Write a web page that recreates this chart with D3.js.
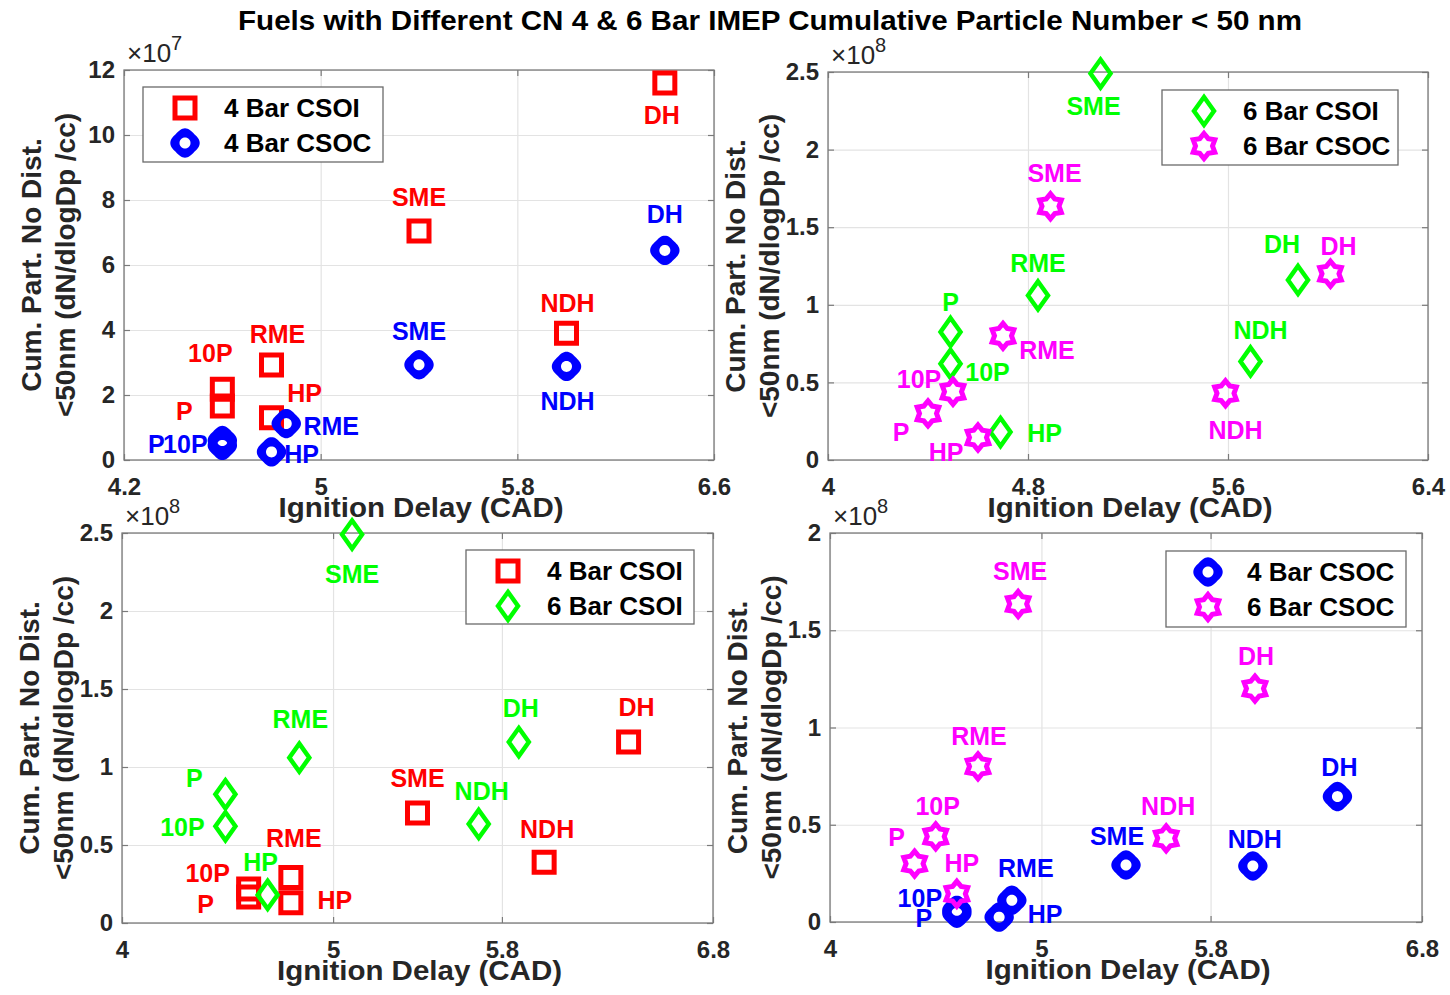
<!DOCTYPE html>
<html>
<head>
  <meta charset="utf-8">
  <title>Cumulative Particle Number &lt; 50 nm</title>
  <script src="https://d3js.org/d3.v7.min.js"></script>
  <style>
    body { margin: 0; background: #fff; }
    text { font-family: "Liberation Sans", Arial, sans-serif; }
  </style>
</head>
<body>
<div id="chart"></div>
<script>
  // fuels, same order in every series
  const fuels = ['DH', 'SME', 'NDH', 'RME', '10P', 'P', 'HP'];

  // ignition delay (CAD) and cumulative particle number < 50 nm (dN/dlogDp /cc)
  const ign4CSOI = [6.40, 5.40, 6.00, 4.80, 4.60, 4.60, 4.80];
  const cpn4CSOI = [1.16e8, 7.05e7, 3.9e7, 2.92e7, 2.18e7, 1.66e7, 1.3e7];
  const ign4CSOC = [6.40, 5.40, 6.00, 4.86, 4.60, 4.60, 4.80];
  const cpn4CSOC = [6.45e7, 2.93e7, 2.88e7, 1.12e7, 0.6e7, 0.45e7, 0.25e7];
  const ign6CSOI = [5.88, 5.09, 5.69, 4.84, 4.49, 4.49, 4.69];
  const cpn6CSOI = [1.16e8, 2.49e8, 6.35e7, 1.06e8, 6.2e7, 8.25e7, 1.8e7];
  const ign6CSOC = [6.01, 4.89, 5.59, 4.70, 4.50, 4.40, 4.60];
  const cpn6CSOC = [1.20e8, 1.635e8, 4.3e7, 8.0e7, 4.4e7, 3.0e7, 1.45e7];

  // ticks
  const xTicksA = [4.2, 5, 5.8, 6.6];
  const xTicksB = [4, 4.8, 5.6, 6.4];
  const xTicksC = [4, 5, 5.8, 6.8];
  const yTicksA = [0, 2e7, 4e7, 6e7, 8e7, 10e7, 12e7];
  const yTicksB = [0, 0.5e8, 1e8, 1.5e8, 2e8, 2.5e8];
  const yTicksC = [0, 0.5e8, 1e8, 1.5e8, 2e8];

  const W = 1450, H = 995;
  const svg = d3.select('#chart').append('svg')
      .attr('width', W).attr('height', H);

  // marker shapes
  function hexagram(R, r) {
    let pts = [];
    for (let i = 0; i < 12; i++) {
      let a = -Math.PI / 2 + i * Math.PI / 6;
      let rr = i % 2 ? r : R;
      pts.push([rr * Math.cos(a), rr * Math.sin(a)]);
    }
    return 'M' + pts.map(p => p[0].toFixed(2) + ',' + p[1].toFixed(2)).join('L') + 'Z';
  }
  function ring() {
    // thick circle marker, slightly lobed like the rasterised original
    let outer = d3.range(0, 73).map(i => {
      let a = i / 72 * 2 * Math.PI;
      let rr = 13.8 + 0.9 * Math.cos(4 * a);
      return [rr * Math.cos(a), rr * Math.sin(a)];
    });
    let inner = d3.range(0, 37).map(i => {
      let a = -i / 36 * 2 * Math.PI;
      return [5.5 * Math.cos(a), 5.5 * Math.sin(a)];
    });
    return d3.line()(outer) + 'Z' + d3.line()(inner) + 'Z';
  }

  const series = {
    '4CSOI': {name: '4 Bar CSOI', x: ign4CSOI, y: cpn4CSOI, color: '#ff0000',
              path: 'M-10,-10H10V10H-10Z', fill: 'none', sw: 5},
    '4CSOC': {name: '4 Bar CSOC', x: ign4CSOC, y: cpn4CSOC, color: '#0000ff',
              path: ring(), fill: '#0000ff', sw: 0},
    '6CSOI': {name: '6 Bar CSOI', x: ign6CSOI, y: cpn6CSOI, color: '#00ff00',
              path: 'M0,-14L10,0L0,14L-10,0Z', fill: 'none', sw: 4.5},
    '6CSOC': {name: '6 Bar CSOC', x: ign6CSOC, y: cpn6CSOC, color: '#ff00ff',
              path: hexagram(12.5, 8.5), fill: 'none', sw: 5}
  };

  // label offsets (px from marker), in fuel order DH SME NDH RME 10P P HP
  const panels = [
    {box: [124, 70, 714, 460], xDomain: [4.2, 6.6], xTicks: xTicksA,
     yDomain: [0, 12e7], yTicks: yTicksA, exp: 7, div: 1e7,
     keys: ['4CSOI', '4CSOC'],
     offsets: {
       '4CSOI': [[-3, 32], [0, -34], [1, -30], [6, -31], [-12, -36], [-38, 5], [33, -25]],
       '4CSOC': [[0, -36], [0, -34], [1, 35], [45, 2], [-37, 3], [-66, -1], [30, 2]]
     },
     legend: [143, 87, 383, 162]},
    {box: [828, 72, 1428, 460], xDomain: [4, 6.4], xTicks: xTicksB,
     yDomain: [0, 2.5e8], yTicks: yTicksB, exp: 8, div: 1e8,
     keys: ['6CSOI', '6CSOC'],
     offsets: {
       '6CSOI': [[-16, -36], [-7, 32], [10, -31], [0, -32], [37, 8], [0, -30], [44, 1]],
       '6CSOC': [[8, -28], [4, -33], [10, 37], [44, 14], [-34, -13], [-27, 19], [-32, 15]]
     },
     legend: [1162, 90, 1398, 165]},
    {box: [122, 533, 713, 923], xDomain: [4, 6.8], xTicks: xTicksC,
     yDomain: [0, 2.5e8], yTicks: yTicksB, exp: 8, div: 1e8,
     keys: ['4CSOI', '6CSOI'],
     offsets: {
       '4CSOI': [[8, -35], [0, -35], [3, -33], [3, -39], [-41, -16], [-43, 7], [44, -3]],
       '6CSOI': [[2, -34], [0, 39], [3, -33], [1, -39], [-43, 1], [-31, -16], [-7, -33]]
     },
     legend: [466, 550, 694, 624]},
    {box: [830, 533, 1422, 922], xDomain: [4, 6.8], xTicks: xTicksC,
     yDomain: [0, 2e8], yTicks: yTicksC, exp: 8, div: 1e8,
     keys: ['4CSOC', '6CSOC'],
     offsets: {
       '4CSOC': [[2, -30], [-9, -29], [2, -27], [14, -32], [-37, -12], [-33, 5], [46, -3]],
       '6CSOC': [[1, -33], [2, -33], [2, -32], [1, -30], [2, -30], [-18, -27], [5, -31]]
     },
     legend: [1166, 551, 1406, 627]}
  ];

  // title
  svg.append('text')
     .attr('x', 770).attr('y', 21)
     .attr('text-anchor', 'middle').attr('dominant-baseline', 'central')
     .attr('font-size', '27px').attr('font-weight', 'bold').attr('fill', '#000')
     .attr('textLength', 1064).attr('lengthAdjust', 'spacingAndGlyphs')
     .text('Fuels with Different CN 4 & 6 Bar IMEP Cumulative Particle Number < 50 nm');

  panels.forEach(p => {
    const [x0, y0, x1, y1] = p.box;
    const xScale = d3.scaleLinear().domain(p.xDomain).range([x0, x1]);
    const yScale = d3.scaleLinear().domain(p.yDomain).range([y1, y0]);
    const g = svg.append('g');

    // grid
    g.append('g').attr('transform', `translate(0,${y1})`)
     .call(d3.axisBottom(xScale).tickValues(p.xTicks).tickSize(-(y1 - y0)).tickFormat(''))
     .call(a => a.select('.domain').remove())
     .call(a => a.selectAll('line').attr('stroke', '#e3e3e3').attr('stroke-width', 1.2));
    g.append('g').attr('transform', `translate(${x0},0)`)
     .call(d3.axisLeft(yScale).tickValues(p.yTicks).tickSize(-(x1 - x0)).tickFormat(''))
     .call(a => a.select('.domain').remove())
     .call(a => a.selectAll('line').attr('stroke', '#e3e3e3').attr('stroke-width', 1.2));

    // axes with inward ticks
    const fmtY = v => String(+(v / p.div).toFixed(2));
    const styleAxis = a => {
      a.select('.domain').remove();
      a.selectAll('line').attr('stroke', '#7a7a7a').attr('stroke-width', 1.2);
      a.selectAll('text').attr('font-size', '24px').attr('font-weight', 'bold')
       .attr('fill', '#262626').attr('font-family', '"Liberation Sans", Arial, sans-serif');
    };
    g.append('g').attr('transform', `translate(0,${y1})`)
     .call(d3.axisBottom(xScale).tickValues(p.xTicks).tickSize(-6).tickPadding(18)
           .tickFormat(d => String(d)))
     .call(styleAxis);
    g.append('g').attr('transform', `translate(${x0},0)`)
     .call(d3.axisLeft(yScale).tickValues(p.yTicks).tickSize(-6).tickPadding(9)
           .tickFormat(fmtY))
     .call(styleAxis);
    g.append('g').attr('transform', `translate(0,${y0})`)
     .call(d3.axisTop(xScale).tickValues(p.xTicks).tickSize(-6).tickFormat(''))
     .call(styleAxis);
    g.append('g').attr('transform', `translate(${x1},0)`)
     .call(d3.axisRight(yScale).tickValues(p.yTicks).tickSize(-6).tickFormat(''))
     .call(styleAxis);

    g.append('rect')
     .attr('x', x0).attr('y', y0).attr('width', x1 - x0).attr('height', y1 - y0)
     .attr('fill', 'none').attr('stroke', '#7a7a7a').attr('stroke-width', 1.3);

    // exponent
    const ex = g.append('text')
      .attr('x', x0 + 3).attr('y', y0 - 8)
      .attr('font-size', '26px').attr('fill', '#262626');
    ex.append('tspan').text('\u00d710');
    ex.append('tspan').attr('dy', -12).attr('font-size', '20px').text(p.exp);

    // axis labels
    g.append('text')
     .attr('x', (x0 + x1) / 2 + 2).attr('y', y1 + 47)
     .attr('text-anchor', 'middle').attr('dominant-baseline', 'central')
     .attr('font-size', '28px').attr('font-weight', 'bold').attr('fill', '#262626')
     .attr('textLength', 285).attr('lengthAdjust', 'spacingAndGlyphs')
     .text('Ignition Delay (CAD)');
    const cy = (y0 + y1) / 2;
    [['Cum. Part. No Dist.', -93], ['<50nm (dN/dlogDp /cc)', -59]].forEach(([t, dx]) => {
      g.append('text')
       .attr('transform', `translate(${x0 + dx},${cy}) rotate(-90)`)
       .attr('text-anchor', 'middle').attr('dominant-baseline', 'central')
       .attr('font-size', '28px').attr('font-weight', 'bold').attr('fill', '#262626')
       .text(t);
    });

    // markers
    p.keys.forEach(k => {
      const s = series[k];
      g.append('g').selectAll('path')
       .data(fuels.map((f, i) => ({f, x: s.x[i], y: s.y[i]})))
       .enter().append('path')
       .attr('transform', d => `translate(${xScale(d.x)},${yScale(d.y)})`)
       .attr('d', s.path)
       .attr('fill', s.fill).attr('fill-rule', 'evenodd')
       .attr('stroke', s.sw ? s.color : 'none').attr('stroke-width', s.sw)
       .attr('stroke-linejoin', 'miter');
    });

    // point labels
    p.keys.forEach(k => {
      const s = series[k];
      g.append('g').selectAll('text')
       .data(fuels.map((f, i) => ({f, x: s.x[i], y: s.y[i], o: p.offsets[k][i]})))
       .enter().append('text')
       .attr('x', d => xScale(d.x) + d.o[0])
       .attr('y', d => yScale(d.y) + d.o[1])
       .attr('text-anchor', 'middle').attr('dominant-baseline', 'central')
       .attr('font-size', '25px').attr('font-weight', 'bold').attr('fill', s.color)
       .text(d => d.f);
    });

    // legend
    const [lx0, ly0, lx1, ly1] = p.legend;
    const lg = g.append('g');
    lg.append('rect')
      .attr('x', lx0).attr('y', ly0).attr('width', lx1 - lx0).attr('height', ly1 - ly0)
      .attr('fill', '#fff').attr('stroke', '#6a6a6a').attr('stroke-width', 1.3);
    p.keys.forEach((k, i) => {
      const s = series[k];
      const ry = ly0 + 21 + i * 35;
      lg.append('path')
        .attr('transform', `translate(${lx0 + 42},${ry})`)
        .attr('d', s.path)
        .attr('fill', s.fill).attr('fill-rule', 'evenodd')
        .attr('stroke', s.sw ? s.color : 'none').attr('stroke-width', s.sw);
      lg.append('text')
        .attr('x', lx0 + 81).attr('y', ry)
        .attr('dominant-baseline', 'central')
        .attr('font-size', '26px').attr('font-weight', 'bold').attr('fill', '#000')
        .text(s.name);
    });
  });
</script>
</body>
</html>
